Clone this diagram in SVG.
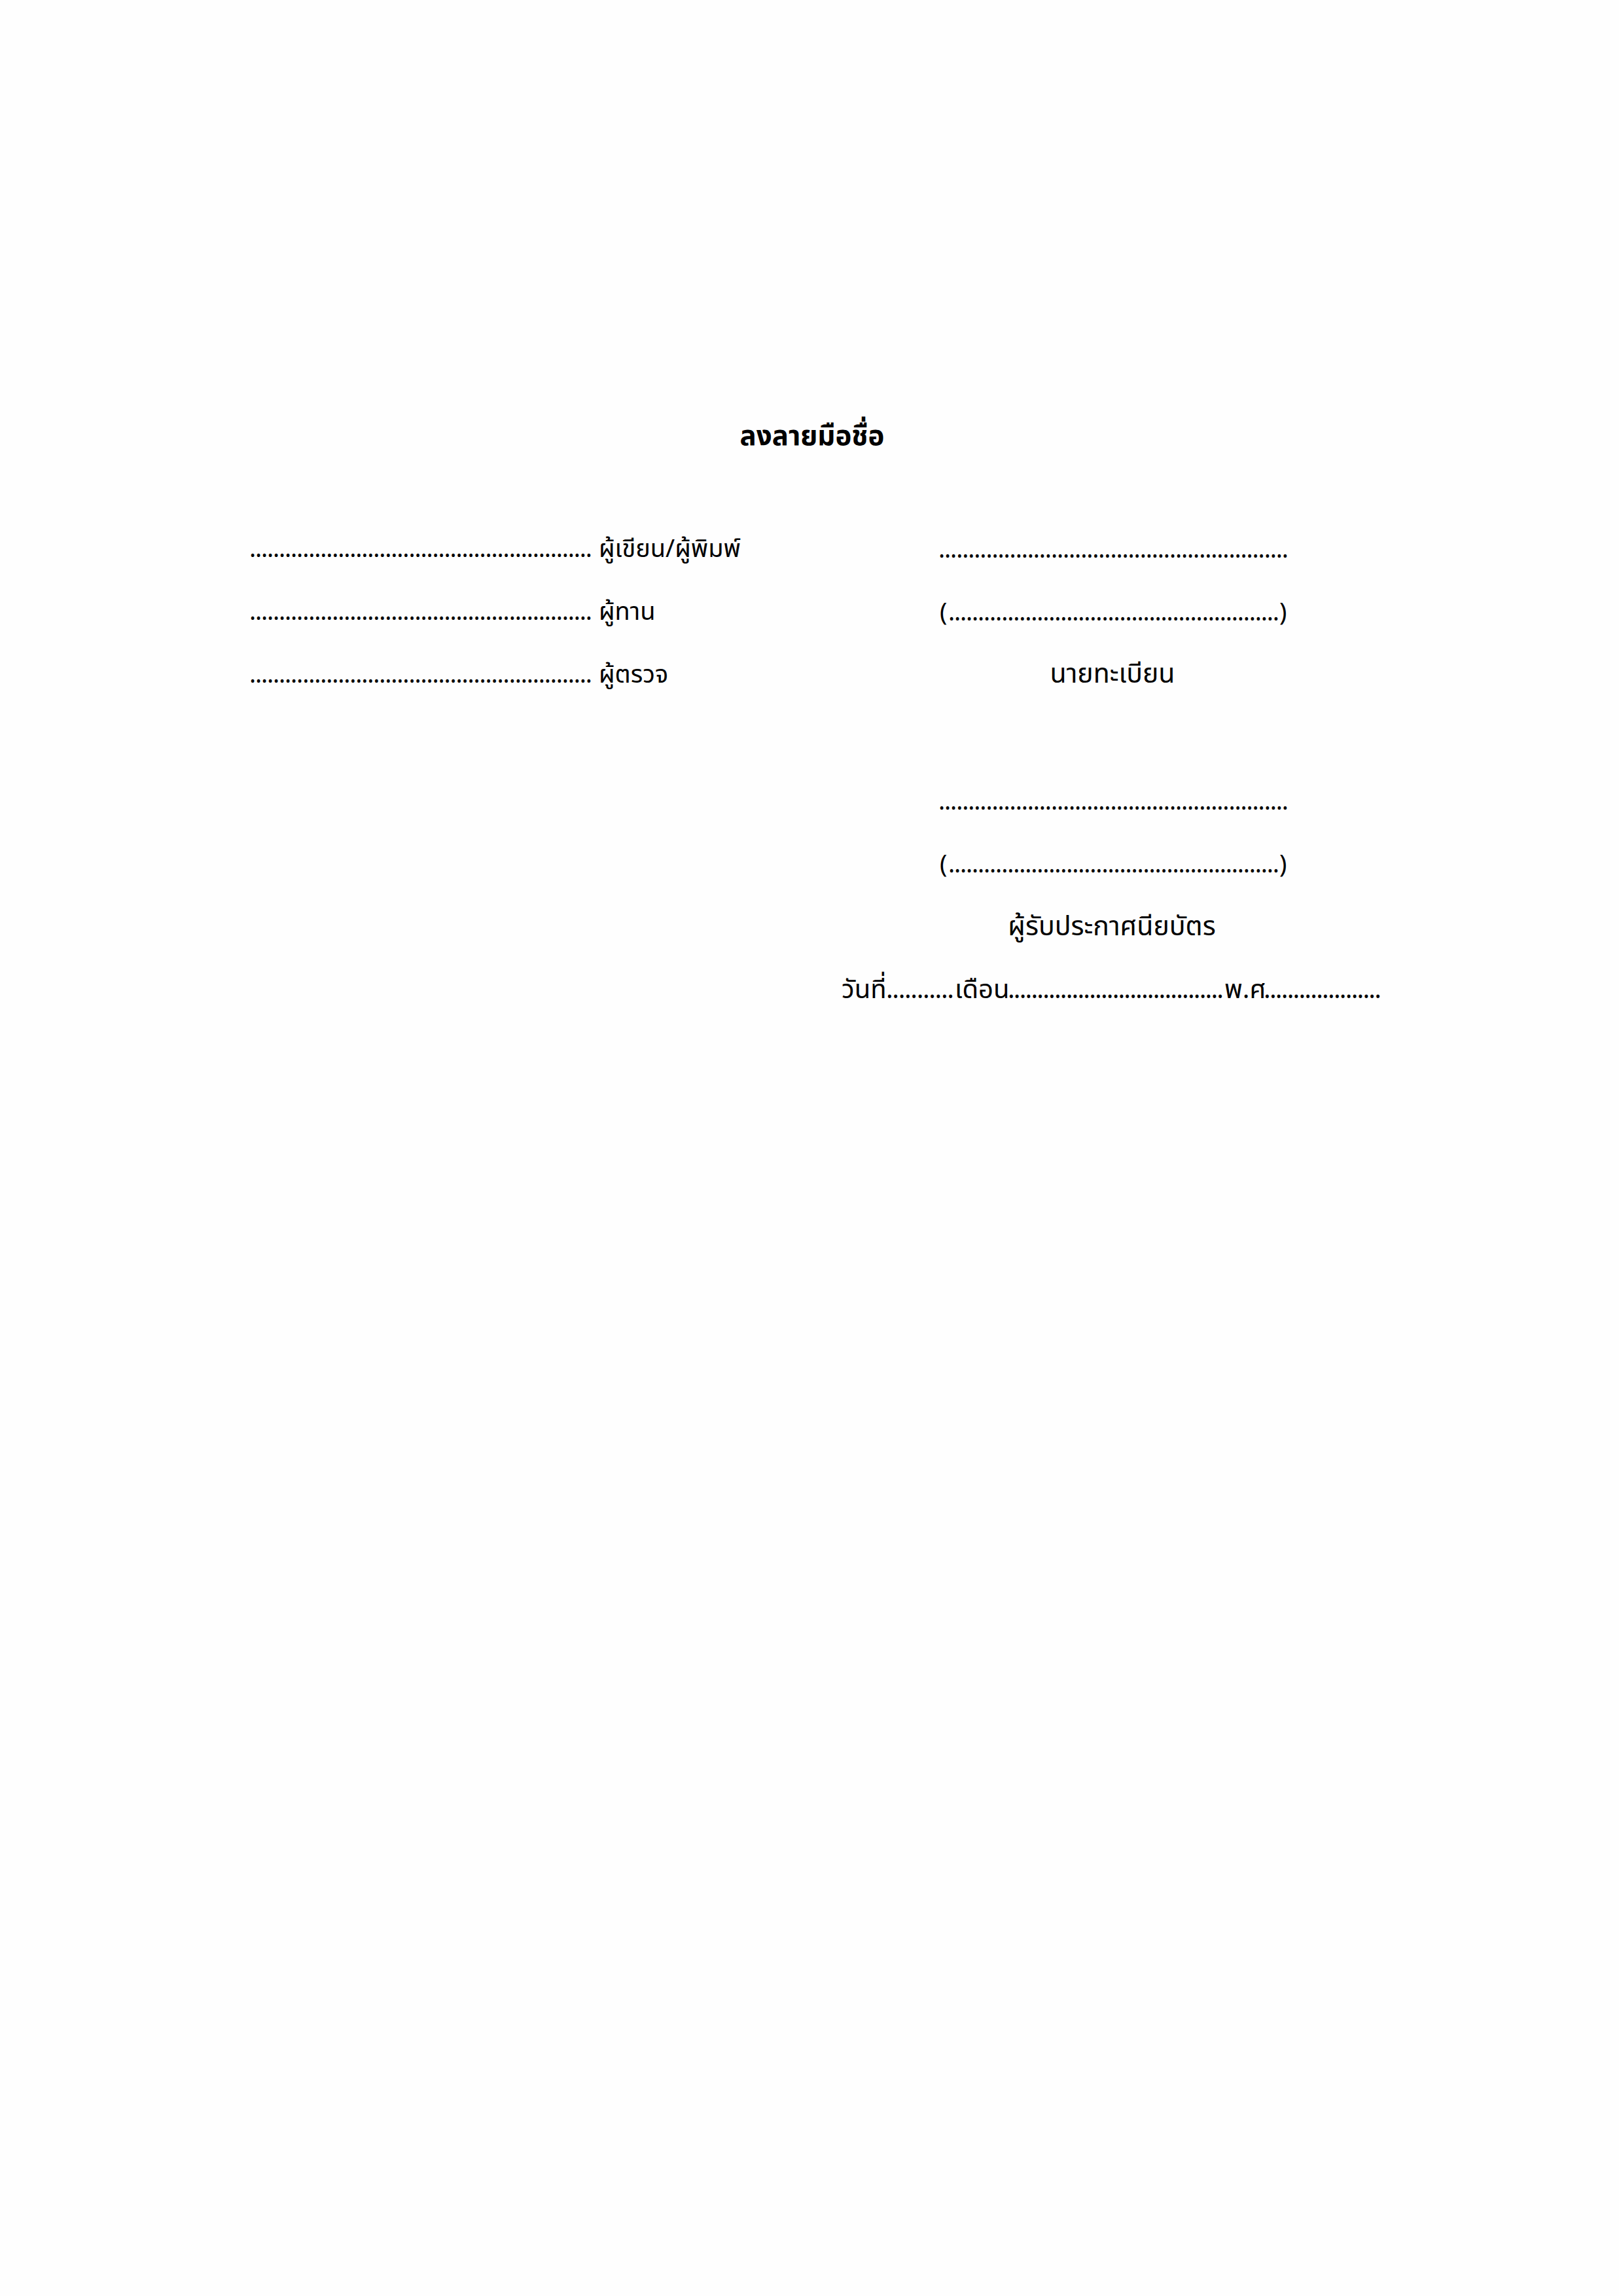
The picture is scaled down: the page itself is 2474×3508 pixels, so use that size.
<svg xmlns="http://www.w3.org/2000/svg" width="2474" height="3508" viewBox="0 0 2474 3508">
<style>
.t{font-family:"Noto Sans Thai","Noto Sans Thai UI","Noto Sans","DejaVu Sans",sans-serif;font-size:38px;fill:#000}
.r{font-size:41px}
.d{font-size:40px}
.h{font-family:"Noto Sans Thai","Noto Sans Thai UI","Noto Sans","DejaVu Sans",sans-serif;font-size:42px;font-weight:bold;fill:#000}
.c{text-anchor:middle}
</style>
<rect x="0" y="0" width="2474" height="3508" fill="#fefefe"/>
<g id="title"><text class="h c" x="1241" y="680">ลงลายมือชื่อ</text></g>
<g id="writer"><text class="t"><tspan x="381" y="851" textLength="524" lengthAdjust="spacing">..........................................................</tspan><tspan x="915" y="851">ผู้เขียน/ผู้พิมพ์</tspan></text></g>
<g id="reader"><text class="t"><tspan x="381" y="947" textLength="524" lengthAdjust="spacing">..........................................................</tspan><tspan x="915" y="947">ผู้ทาน</tspan></text></g>
<g id="checker"><text class="t"><tspan x="381" y="1043" textLength="524" lengthAdjust="spacing">..........................................................</tspan><tspan x="915" y="1043">ผู้ตรวจ</tspan></text></g>
<g id="registrar">
<text class="t" x="1434" y="852" textLength="535" lengthAdjust="spacing">...........................................................</text>
<text class="t"><tspan x="1436" y="948">(</tspan><tspan x="1449" y="948" textLength="506" lengthAdjust="spacing">........................................................</tspan><tspan x="1955" y="948">)</tspan></text>
<text class="t r c" x="1700" y="1043">นายทะเบียน</text>
</g>
<g id="recipient">
<text class="t" x="1434" y="1237" textLength="535" lengthAdjust="spacing">...........................................................</text>
<text class="t"><tspan x="1436" y="1333">(</tspan><tspan x="1449" y="1333" textLength="506" lengthAdjust="spacing">........................................................</tspan><tspan x="1955" y="1333">)</tspan></text>
<text class="t r c" x="1699" y="1429">ผู้รับประกาศนียบัตร</text>
</g>
<g id="date"><text class="t d"><tspan x="1286" y="1525">วันที่</tspan><tspan x="1354" y="1525" textLength="104" lengthAdjust="spacing">...........</tspan><tspan x="1459" y="1525">เดือน</tspan><tspan x="1540" y="1525" textLength="330" lengthAdjust="spacing">.....................................</tspan><tspan x="1871" y="1525">พ.ศ</tspan><tspan x="1931" y="1525" textLength="180" lengthAdjust="spacing">....................</tspan></text></g>
</svg>
